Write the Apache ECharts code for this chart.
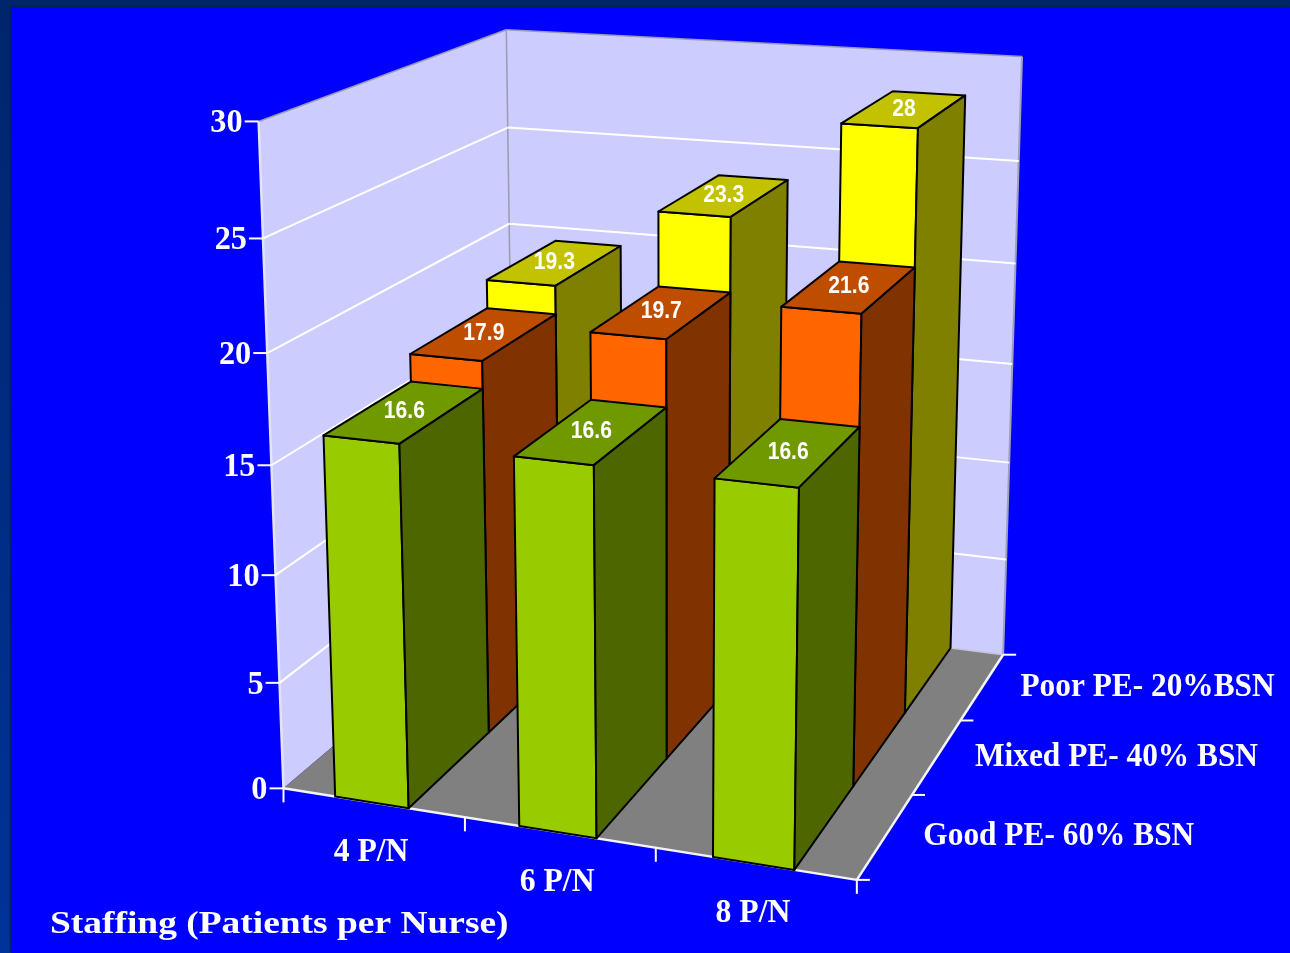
<!DOCTYPE html>
<html>
<head>
<meta charset="UTF-8">
<title>Staffing 3D bars</title>
<script src="https://cdn.jsdelivr.net/npm/echarts@6/dist/echarts.min.js"></script>
<style>
  html, body { margin:0; padding:0; width:1290px; height:953px; overflow:hidden; background:linear-gradient(#00256b,#003399); }
  #panel { position:absolute; left:11px; top:7px; right:0; bottom:0; background:#0000ff; box-shadow:-1px -1px 1px #001f5c; }
  #main { position:absolute; left:0; top:0; width:1290px; height:953px; }
</style>
</head>
<body>
<div id="panel"></div>
<div id="main"></div>
<script>
var categories = ['4 P/N', '6 P/N', '8 P/N'];
// back row first, the rows are painted in this order
var rowNames = ['Poor PE- 20%BSN', 'Mixed PE- 40% BSN', 'Good PE- 60% BSN'];
var poorValues = [19.3, 23.3, 28];
var mixedValues = [17.9, 19.7, 21.6];
var goodValues = [16.6, 16.6, 16.6];
var yTicks = [0, 5, 10, 15, 20, 25, 30];
var xAxisTitle = 'Staffing (Patients per Nurse)';

var poorColors = ['#ffff00', '#c2c200', '#808000'];
var mixedColors = ['#ff6600', '#bf4d00', '#803300'];
var goodColors = ['#99cc00', '#709900', '#4d6600'];

var W = 1290, H = 953, YMAX = 30;
var BAR_START = 0.29, BAR_WIDTH = 0.405;
var SERIF = '"Liberation Serif", serif';
var SANS = '"Liberation Sans", Arial, sans-serif';

// box corners of the plot on the page: [X, Y, Z, px, py]
// X goes along categories, Y is up (share of the axis), Z goes to the back wall
var corners = [
  [0, 0, 0, 283, 784], [1, 0, 0, 857, 884], [1, 0, 1, 1003, 650], [0, 0, 1, 515, 597],
  [0, 1, 0, 259, 122], [0, 1, 1, 506, 28], [1, 1, 1, 1022, 58]
];

// fit a camera matrix to the corners (least squares, normal equations)
function fitCamera(pts) {
  var rows = [], rhs = [];
  pts.forEach(function(p) {
    var X = p[0], Y = p[1], Z = p[2], u = p[3] / 1000, v = p[4] / 1000;
    rows.push([X, Y, Z, 1, 0, 0, 0, 0, -u * X, -u * Y, -u * Z]); rhs.push(u);
    rows.push([0, 0, 0, 0, X, Y, Z, 1, -v * X, -v * Y, -v * Z]); rhs.push(v);
  });
  var n = 11, A = [];
  for (var i = 0; i < n; i++) {
    A[i] = [];
    for (var j = 0; j < n; j++) {
      var s = 0;
      for (var r = 0; r < rows.length; r++) s += rows[r][i] * rows[r][j];
      A[i][j] = s;
    }
    var b = 0;
    for (var r2 = 0; r2 < rows.length; r2++) b += rows[r2][i] * rhs[r2];
    A[i][n] = b;
  }
  for (var c = 0; c < n; c++) {
    var piv = c;
    for (var k = c + 1; k < n; k++) if (Math.abs(A[k][c]) > Math.abs(A[piv][c])) piv = k;
    var tmp = A[c]; A[c] = A[piv]; A[piv] = tmp;
    for (var m = 0; m < n; m++) {
      if (m === c) continue;
      var f = A[m][c] / A[c][c];
      for (var q = c; q <= n; q++) A[m][q] -= f * A[c][q];
    }
  }
  var out = [];
  for (var t = 0; t < n; t++) out[t] = A[t][n] / A[t][t];
  return out;
}
var cam = fitCamera(corners);

function project(X, Y, Z) {
  var w = cam[8] * X + cam[9] * Y + cam[10] * Z + 1;
  return [
    1000 * (cam[0] * X + cam[1] * Y + cam[2] * Z + cam[3]) / w,
    1000 * (cam[4] * X + cam[5] * Y + cam[6] * Z + cam[7]) / w
  ];
}

// value -> Y share, read through the hidden value axis
function axisY(api, v) { return 1 - api.coord([0, v])[1] / H; }
// category index + offset inside the band -> X share, read through the hidden category axis
function axisX(api, c, frac) {
  var band = api.size([1, 0])[0];
  return (api.coord([c, 0])[0] - band / 2 + frac * band) / W;
}

function poly(pts, fill, stroke, lw) {
  return { type: 'polygon', shape: { points: pts }, style: { fill: fill, stroke: stroke || null, lineWidth: lw || 0, lineJoin: 'round' } };
}
function line(a, b, color, lw) {
  return { type: 'line', shape: { x1: a[0], y1: a[1], x2: b[0], y2: b[1] }, style: { stroke: color, lineWidth: lw } };
}
function label(text, x, y, size, align, family, scaleX) {
  return {
    type: 'text', x: x, y: y, scaleX: scaleX || 1,
    style: { text: text, fontFamily: family, fontSize: size, fontWeight: 'bold', fill: '#ffffff', align: align, verticalAlign: 'middle' }
  };
}

function renderWalls(params, api) {
  var a = project(0, 0, 0), b = project(1, 0, 0), c = project(1, 0, 1), d = project(0, 0, 1);
  var e = project(0, 1, 0), f = project(0, 1, 1), g = project(1, 1, 1);
  return { type: 'group', children: [
    poly([a, d, f, e], '#ccccff'),
    poly([d, c, g, f], '#ccccff'),
    poly([a, b, c, d], '#808080'),
    line(e, f, '#9a9ab0', 1.5), line(f, g, '#9a9ab0', 1.5), line(g, c, '#a0a0b8', 2),
    line(f, d, '#9c9cab', 1.5), line(d, c, '#c4c4d8', 1.5),
    line(e, a, '#e4e4f4', 2.5), line(a, b, '#f4f4f4', 2.5), line(b, c, '#f4f4f4', 2.5)
  ] };
}

function renderGrid(params, api) {
  var v = api.value(0), y = axisY(api, v);
  var p0 = project(0, y, 0), p1 = project(0, y, 1), p2 = project(1, y, 1);
  var kids = [line([p0[0] - 14, p0[1]], p0, '#ffffff', 2)];
  if (v > 0 && v < YMAX) kids.push(line(p0, p1, '#ffffff', 2), line(p1, p2, '#ffffff', 2));
  kids.push(label(String(v), p0[0] - 16, p0[1] + 2, 34, 'right', SERIF, 0.95));
  return { type: 'group', children: kids };
}

function renderCategory(params, api) {
  var c = api.value(0);
  var mid = project(axisX(api, c, 0.5), 0, 0);
  var edge = project(axisX(api, c, 1), 0, 0);
  var kids = [label(categories[c], mid[0] - 2, mid[1] + 50, 33, 'center', SERIF, 0.96),
    line(edge, [edge[0], edge[1] + 14], '#ffffff', 2)];
  if (c === 0) {
    var start = project(axisX(api, c, 0), 0, 0);
    kids.push(line(start, [start[0], start[1] + 14], '#ffffff', 2));
  }
  return { type: 'group', children: kids };
}

function renderRowLabel(params, api) {
  // rows[0] is the back one
  var r = api.value(0);
  var zBack = 1 - r / 3, zFront = 1 - (r + 1) / 3;
  var mid = project(1, 0, (zBack + zFront) / 2);
  var back = project(1, 0, zBack), front = project(1, 0, zFront);
  var kids = [label(rowNames[r], mid[0] + 38, mid[1] + 1, 33, 'left', SERIF, 0.95),
    line(back, [back[0] + 13, back[1]], '#ffffff', 2)];
  if (r === rowNames.length - 1) kids.push(line(front, [front[0] + 13, front[1]], '#ffffff', 2));
  return { type: 'group', children: kids };
}

function barRenderer(rowIndex, colors) {
  return function(params, api) {
    var c = api.value(0), v = api.value(1);
    var x0 = axisX(api, c, BAR_START), x1 = axisX(api, c, BAR_START + BAR_WIDTH);
    var y = axisY(api, v);
    var z0 = 1 - (rowIndex + 1) / 3, z1 = 1 - rowIndex / 3;
    var fb0 = project(x0, 0, z0), fb1 = project(x1, 0, z0), bb1 = project(x1, 0, z1);
    var ft0 = project(x0, y, z0), ft1 = project(x1, y, z0), bt1 = project(x1, y, z1), bt0 = project(x0, y, z1);
    var mid = project((x0 + x1) / 2, y, (z0 + z1) / 2);
    return { type: 'group', children: [
      poly([fb0, fb1, ft1, ft0], colors[0], '#000000', 2),
      poly([ft0, ft1, bt1, bt0], colors[1], '#000000', 2),
      poly([fb1, bb1, bt1, ft1], colors[2], '#000000', 2),
      label(String(v), mid[0] - 1, mid[1], 24, 'center', SANS, 0.88)
    ] };
  };
}

function toPairs(values) {
  return values.map(function(v, i) { return [i, v]; });
}

var myChart = echarts.init(document.getElementById('main'), null, { renderer: 'canvas' });
myChart.setOption({
  animation: false,
  backgroundColor: 'transparent',
  grid: { left: 0, right: 0, top: 0, bottom: 0 },
  xAxis: { type: 'category', data: categories, show: false },
  yAxis: { type: 'value', min: 0, max: YMAX, interval: 5, show: false },
  graphic: [{
    type: 'text', x: 50, y: 925, scaleX: 1.17,
    style: { text: xAxisTitle, fontFamily: SERIF, fontSize: 32, fontWeight: 'bold', fill: '#ffffff', verticalAlign: 'middle' }
  }],
  series: [
    { type: 'custom', name: 'walls', clip: false, renderItem: renderWalls, data: [[0, 0]], encode: { x: 0, y: 1 } },
    { type: 'custom', name: 'grid', clip: false, renderItem: renderGrid, data: yTicks.map(function(v) { return [v]; }), encode: { y: 0 } },
    { type: 'custom', name: 'categories', clip: false, renderItem: renderCategory, data: categories.map(function(c, i) { return [i]; }), encode: { x: 0 } },
    { type: 'custom', name: 'rows', clip: false, renderItem: renderRowLabel, data: rowNames.map(function(c, i) { return [i]; }), encode: { y: 0 } },
    { type: 'custom', name: rowNames[0], clip: false, renderItem: barRenderer(0, poorColors), data: toPairs(poorValues), encode: { x: 0, y: 1 } },
    { type: 'custom', name: rowNames[1], clip: false, renderItem: barRenderer(1, mixedColors), data: toPairs(mixedValues), encode: { x: 0, y: 1 } },
    { type: 'custom', name: rowNames[2], clip: false, renderItem: barRenderer(2, goodColors), data: toPairs(goodValues), encode: { x: 0, y: 1 } }
  ]
});
</script>
</body>
</html>
